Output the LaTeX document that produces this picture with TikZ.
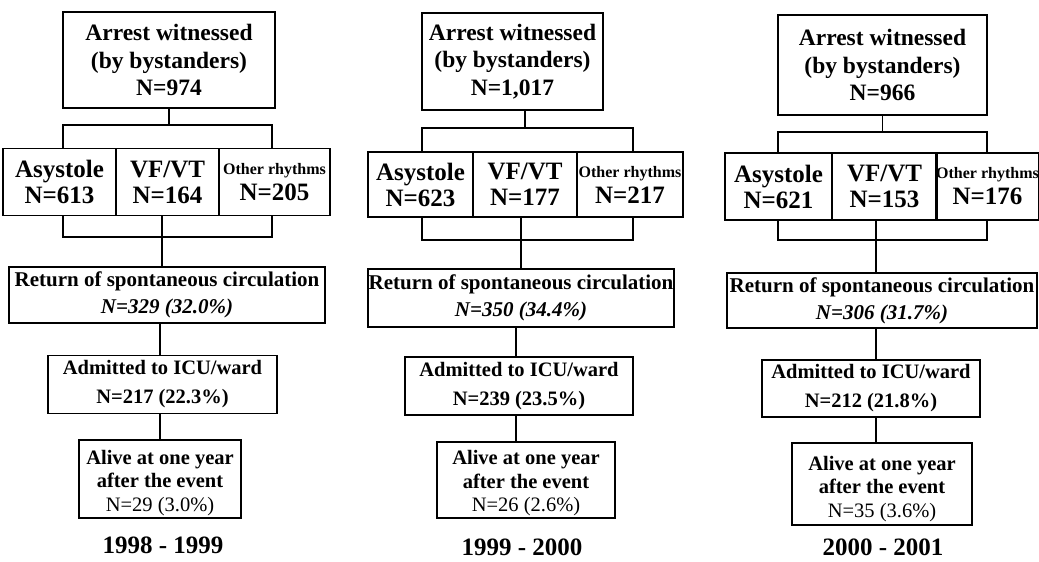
\documentclass[tikz,border=0pt]{standalone}
\usepackage{fontspec}
\setmainfont{Liberation Serif}
\usetikzlibrary{calc}

\newcommand{\othfont}{\fontsize{16}{18}\selectfont}

\begin{document}
\begin{tikzpicture}[x=1pt, y=-1pt,
        b/.style={draw, line width=1.6pt, inner sep=0pt, align=center,
            font=\bfseries\fontsize{23.5}{27.5}\selectfont},
        rhy/.style={b, minimum height=67pt, font=\bfseries\fontsize{25}{26}\selectfont},
        rosc/.style={b, minimum height=56pt, font=\bfseries\fontsize{21}{27}\selectfont},
        adm/.style={b, minimum height=58pt, font=\bfseries\fontsize{20.5}{29}\selectfont},
        alive/.style={b, minimum height=78pt, font=\bfseries\fontsize{20.5}{23.5}\selectfont},
        yr/.style={font=\bfseries\fontsize{25}{28}\selectfont},
        ln/.style={line width=1.6pt}
    ]
    \useasboundingbox (0,0) rectangle (1039,562);

    % 1998 - 1999
    \node[b, minimum width=212pt, minimum height=96pt] (top1) at (169,60) {Arrest witnessed\\(by bystanders)\\N=974};
    \node[rhy, minimum width=113pt] (asy1) at (59.5,182) {Asystole\\N=613};
    \node[rhy, minimum width=103pt] (vf1) at (167.5,182) {VF/VT\\N=164};
    \node[rhy, minimum width=111pt] (oth1) at (274.5,182) {{\othfont Other rhythms}\\N=205};
    \node[rosc, minimum width=316pt] (rosc1) at (167,295) {Return of spontaneous circulation\\\itshape N=329 (32.0\%)};
    \node[adm, minimum width=229pt] (adm1) at (162.5,384.5) {Admitted to ICU/ward\\N=217 (22.3\%)};
    \node[alive, minimum width=162pt] (alive1) at (160,479) {\rule{0pt}{22pt}Alive at one year\\after the event\\\mdseries N=29 (3.0\%)};
    \node[yr] (yr1) at (163,545) {1998 - 1999};
    \coordinate (tl1) at (63,125);
    \coordinate (tr1) at (272,125);
    \coordinate (bl1) at (63,237);
    \coordinate (br1) at (272,237);
    \coordinate (m1) at (162,237);
    \draw[ln] (top1.south) -- (top1.south |- tl1);
    \draw[ln] (tl1 |- asy1.north) -- (tl1) -- (tr1) -- (tr1 |- oth1.north);
    \draw[ln] (bl1 |- asy1.south) -- (bl1) -- (br1) -- (br1 |- oth1.south);
    \draw[ln] (m1 |- vf1.south) -- (m1 |- rosc1.north);
    \draw[ln] (alive1.north |- rosc1.south) -- (alive1.north |- adm1.north);
    \draw[ln] (alive1.north |- adm1.south) -- (alive1.north);

    % 1999 - 2000
    \node[b, minimum width=181pt, minimum height=97pt] (top2) at (512.5,61.5) {Arrest witnessed\\(by bystanders)\\N=1,017};
    \node[rhy, minimum width=105pt, minimum height=65pt] (asy2) at (420.5,184.5) {Asystole\\N=623};
    \node[rhy, minimum width=104pt, minimum height=65pt] (vf2) at (525,184.5) {VF/VT\\N=177};
    \node[rhy, minimum width=106pt, minimum height=65pt] (oth2) at (630,184.5) {{\othfont Other rhythms}\\N=217};
    \node[rosc, minimum width=306pt, minimum height=58pt] (rosc2) at (521,298) {Return of spontaneous circulation\\\itshape N=350 (34.4\%)};
    \node[adm, minimum width=228pt] (adm2) at (519,386) {Admitted to ICU/ward\\N=239 (23.5\%)};
    \node[alive, minimum width=178pt, minimum height=76pt] (alive2) at (526,480) {\rule{0pt}{21pt}Alive at one year\\after the event\\\mdseries N=26 (2.6\%)};
    \node[yr] (yr2) at (522,547) {1999 - 2000};
    \coordinate (tl2) at (422,128);
    \coordinate (tr2) at (633,128);
    \coordinate (bl2) at (422,240);
    \coordinate (br2) at (633,240);
    \coordinate (m2) at (516,240);
    \draw[ln] (vf2.north |- top2.south) -- (vf2.north |- tl2);
    \draw[ln] (tl2 |- asy2.north) -- (tl2) -- (tr2) -- (tr2 |- oth2.north);
    \draw[ln] (bl2 |- asy2.south) -- (bl2) -- (br2) -- (br2 |- oth2.south);
    \draw[ln] (rosc2.north |- vf2.south) -- (rosc2.north);
    \draw[ln] (m2 |- rosc2.south) -- (m2 |- adm2.north);
    \draw[ln] (m2 |- adm2.south) -- (m2 |- alive2.north);

    % 2000 - 2001
    \node[b, minimum width=209pt, minimum height=100pt] (top3) at (882.5,65) {Arrest witnessed\\(by bystanders)\\N=966};
    \node[rhy, minimum width=107pt] (asy3) at (778.5,186.5) {Asystole\\N=621};
    \node[rhy, minimum width=105pt] (vf3) at (884.5,186.5) {VF/VT\\N=153};
    \node[rhy, minimum width=101pt] (oth3) at (987.5,186.5) {{\othfont Other rhythms}\\N=176};
    \node[rosc, minimum width=310pt, minimum height=55pt] (rosc3) at (882,300.5) {Return of spontaneous circulation\\\itshape N=306 (31.7\%)};
    \node[adm, minimum width=218pt, minimum height=57pt] (adm3) at (871,388.5) {Admitted to ICU/ward\\N=212 (21.8\%)};
    \node[alive, minimum width=180pt, minimum height=82pt] (alive3) at (882,484) {\rule{0pt}{24pt}Alive at one year\\after the event\\\mdseries N=35 (3.6\%)};
    \node[yr] (yr3) at (883,547) {2000 - 2001};
    \coordinate (tl3) at (778,132);
    \coordinate (tr3) at (987,132);
    \coordinate (bl3) at (778,240);
    \coordinate (br3) at (987,240);
    \coordinate (m3) at (876,240);
    \draw[ln] (top3.south) -- (top3.south |- tl3);
    \draw[ln] (tl3 |- asy3.north) -- (tl3) -- (tr3) -- (tr3 |- oth3.north);
    \draw[ln] (bl3 |- asy3.south) -- (bl3) -- (br3) -- (br3 |- oth3.south);
    \draw[ln] (m3 |- vf3.south) -- (m3 |- rosc3.north);
    \draw[ln] (m3 |- rosc3.south) -- (m3 |- adm3.north);
    \draw[ln] (m3 |- adm3.south) -- (m3 |- alive3.north);
\end{tikzpicture}
\end{document}
